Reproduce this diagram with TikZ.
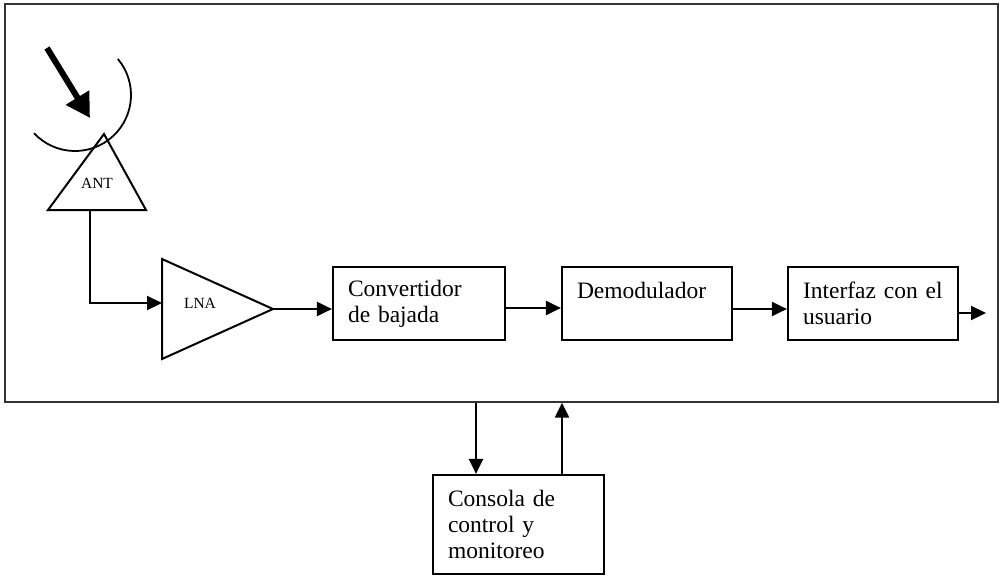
\documentclass[tikz,border=0pt]{standalone}
\usepackage{fontspec}
\setmainfont{Liberation Serif}
\usetikzlibrary{arrows.meta}
\begin{document}
\begin{tikzpicture}[x=1pt,y=-1pt,
  blk/.style={draw,line width=2.2pt,inner xsep=15pt,inner ysep=0pt,align=left,
    font=\fontsize{23.5}{26}\selectfont},
  conn/.style={line width=2.2pt,-{Triangle[length=15pt,width=14pt]}},
  tri/.style={draw,line width=2pt,line join=miter},
  small/.style={font=\fontsize{15.5}{17}\selectfont,inner sep=0pt}]
\useasboundingbox (0,0) rectangle (1004,576);
% outer frame
\node[draw=black!80,line width=1.3pt,minimum width=993pt,minimum height=398pt,inner sep=0pt] (frame) at (501.5,203) {};
% antenna
\draw[line width=1.8pt] (75,95) ++(137:56) arc[start angle=137,end angle=-40,radius=56];
\coordinate (wavein) at (47,48);
\coordinate (dish) at (90,118);
\draw[line width=6pt,-{Triangle[length=24pt,width=26pt]}] (wavein) -- (dish);
\draw[tri] (104,134) -- (146,210) -- (48,210) -- cycle;
\node[small] (ant) at (97,183) {ANT};
\coordinate (antout) at (90,210);
% LNA
\draw[tri] (162,259) -- (273,309) -- (162,359) -- cycle;
\node[small] (lna) at (200,303) {LNA};
\coordinate (lnain) at (162,303);
\coordinate (lnaout) at (273,309);
% blocks
\node[blk,text width=142pt,minimum height=73pt] (conv) at (419,303.5) {Convertidor\\de bajada};
\node[blk,text width=140pt,minimum height=73pt] (demod) at (647,303.5) {Demodulador\\\mbox{}};
\node[blk,text width=140pt,minimum height=73pt] (intf) at (873,303.5) {Interfaz con el\\usuario};
\node[blk,text width=141pt,minimum height=99pt] (cons) at (518.5,524.5) {Consola de\\control y\\monitoreo};
\coordinate (out) at (986,313);
% connectors
\draw[conn] (antout) -- (antout |- lnain) -- (lnain);
\draw[conn] (lnaout) -- (conv.west |- lnaout);
\draw[conn] (conv.east |- 0,308) -- (demod.west |- 0,308);
\draw[conn] (demod.east |- 0,309) -- (intf.west |- 0,309);
\draw[conn] (intf.east |- out) -- (out);
\draw[conn] (frame.south -| 476,0) -- (cons.north -| 476,0);
\draw[conn] (cons.north -| 562,0) -- (frame.south -| 562,0);
\end{tikzpicture}
\end{document}
